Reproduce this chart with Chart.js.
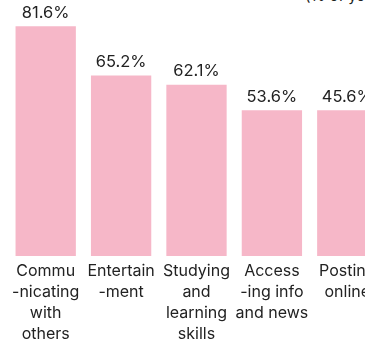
<!DOCTYPE html>
<html>
<head>
<meta charset="utf-8">
<script src="https://cdn.jsdelivr.net/npm/chart.js@4"></script>
<style>
  html, body { margin: 0; padding: 0; background: #fff; width: 365px; height: 341px; overflow: hidden; position: relative; }
  #chart { position: absolute; left: 0; top: 0; }
  #note { position: absolute; left: 305px; top: -14px; font: 15px Inter, sans-serif; color: #222; white-space: nowrap; }
</style>
</head>
<body>
<div id="note">(% of youth)</div>
<canvas id="chart" width="393" height="341"></canvas>
<script>
// categories (split into lines as in the picture)
const categories = [
  ['Commu', '-nicating', 'with', 'others'],
  ['Entertain', '-ment'],
  ['Studying', 'and', 'learning', 'skills'],
  ['Access', '-ing info', 'and news'],
  ['Posting', 'online'],
];
// bar heights
const barValues = [81.6, 65.2, 62.1, 53.6, 53.6];
// printed value labels
const valueLabels = ['81.6%', '65.2%', '62.1%', '53.6%', '45.6%'];

const pink = '#f6b7c8';
const ink = '#222222';

const valueLabelPlugin = {
  id: 'valueLabels',
  afterDatasetsDraw(chart) {
    const ctx = chart.ctx;
    const meta = chart.getDatasetMeta(0);
    ctx.save();
    ctx.font = '16.5px Inter, sans-serif';
    ctx.fillStyle = ink;
    ctx.textAlign = 'center';
    ctx.textBaseline = 'bottom';
    meta.data.forEach((bar, i) => {
      ctx.fillText(valueLabels[i], bar.x, bar.y - 5);
    });
    ctx.restore();
  },
};

new Chart(document.getElementById('chart'), {
  type: 'bar',
  data: {
    labels: categories,
    datasets: [{
      data: barValues,
      backgroundColor: pink,
      borderWidth: 0,
      categoryPercentage: 1,
      barPercentage: 0.8,
    }],
  },
  options: {
    responsive: false,
    animation: false,
    layout: { padding: { left: 8, right: 8, top: 0, bottom: 0 } },
    plugins: { legend: { display: false }, tooltip: { enabled: false } },
    scales: {
      x: {
        grid: { display: false },
        border: { display: false },
        ticks: {
          color: ink,
          padding: -3,
          maxRotation: 0,
          autoSkip: false,
          font: { family: 'Inter, sans-serif', size: 16, lineHeight: 1.31 },
        },
        afterFit(scale) { scale.height = 85; },
      },
      y: { display: false, min: 5, max: 90.33 },
    },
  },
  plugins: [valueLabelPlugin],
});
</script>
</body>
</html>
